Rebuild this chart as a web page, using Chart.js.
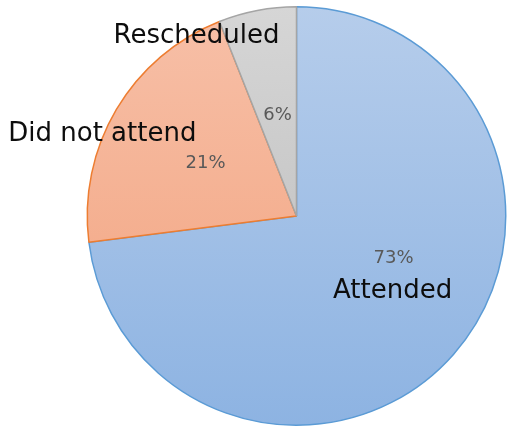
<!DOCTYPE html>
<html>
<head>
<meta charset="utf-8">
<script src="https://cdn.jsdelivr.net/npm/chart.js@4"></script>
<style>
html,body{margin:0;padding:0;background:#fff;}
#wrap{width:507px;height:427px;}
</style>
</head>
<body>
<div id="wrap"><canvas id="c" width="507" height="427"></canvas></div>
<script>
const categories = ["Attended", "Did not attend", "Rescheduled"];
const values = [73, 21, 6];
const percentLabels = ["73%", "21%", "6%"];

const borderColors = ["#5b9bd5", "#ed7d31", "#a5a5a5"];
const gradStops = [
  ["#b6cdeb", "#8db3e2"],
  ["#f7c0a8", "#f2a17c"],
  ["#d6d6d6", "#b9b9b9"]
];
// label placement relative to pie centre, in units of radius
const nameOffsets = [[0.459, 0.359], [-0.928, -0.392], [-0.478, -0.861]];
const pctOffsets = [[0.464, 0.201], [-0.435, -0.254], [-0.091, -0.483]];

function fillFor(ctx) {
  const chart = ctx.chart;
  const area = chart.chartArea;
  if (!area) return gradStops[ctx.dataIndex][0];
  const g = chart.ctx.createLinearGradient(0, area.top, 0, area.bottom);
  const s = gradStops[ctx.dataIndex];
  g.addColorStop(0, s[0]);
  g.addColorStop(1, s[1]);
  return g;
}

const labelPlugin = {
  id: 'sliceLabels',
  afterDatasetsDraw(chart) {
    const meta = chart.getDatasetMeta(0);
    const c = chart.ctx;
    c.save();
    c.textAlign = 'center';
    c.textBaseline = 'middle';
    meta.data.forEach((arc, i) => {
      const r = arc.outerRadius;
      c.fillStyle = '#595959';
      c.font = '18px "DejaVu Sans"';
      c.fillText(percentLabels[i], arc.x + pctOffsets[i][0] * r, arc.y + pctOffsets[i][1] * r);
      c.fillStyle = '#0d0d0d';
      c.font = '26px "DejaVu Sans"';
      c.fillText(categories[i], arc.x + nameOffsets[i][0] * r, arc.y + nameOffsets[i][1] * r);
    });
    c.restore();
  }
};

new Chart(document.getElementById('c'), {
  type: 'pie',
  data: {
    labels: categories,
    datasets: [{
      data: values,
      backgroundColor: fillFor,
      borderColor: borderColors,
      borderWidth: 1.5
    }]
  },
  options: {
    responsive: false,
    animation: false,
    layout: { padding: { left: 86, right: 0, top: 6, bottom: 1 } },
    plugins: { legend: { display: false }, tooltip: { enabled: false } }
  },
  plugins: [labelPlugin]
});
</script>
</body>
</html>
